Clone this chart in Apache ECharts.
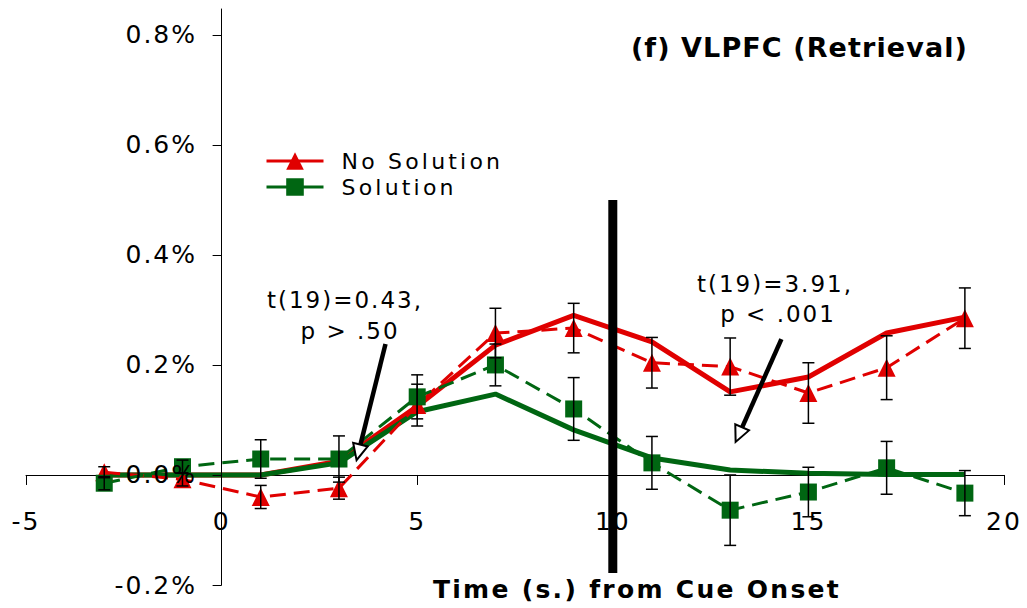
<!DOCTYPE html>
<html><head><meta charset="utf-8">
<script src="https://cdn.jsdelivr.net/npm/echarts@6/dist/echarts.min.js"></script>
<style>
html,body{margin:0;padding:0;background:#fff;}
#chart{width:1027px;height:608px;}
#chart text{letter-spacing:2px;}
#chart text[style*="22px"]{letter-spacing:3.2px;}
#chart text[style*="bold"]{letter-spacing:2.3px;}
#chart text[style*="27px"]{letter-spacing:1.1px;}
</style></head><body><div id="chart"></div>
<script>
// ---- data ----
const timePoints = [-3, -1, 1, 3, 5, 7, 9, 11, 13, 15, 17, 19];
const noSolutionMean = [0.005, -0.008, -0.040, -0.024, 0.127, 0.258, 0.267, 0.204, 0.197, 0.149, 0.195, 0.285];
const noSolutionErr  = [0.010, 0.012, 0.021, 0.020, 0.038, 0.045, 0.045, 0.046, 0.052, 0.055, 0.058, 0.055];
const solutionMean   = [-0.015, 0.015, 0.029, 0.029, 0.142, 0.200, 0.120, 0.022, -0.064, -0.031, 0.013, -0.033];
const solutionErr    = [0.012, 0.012, 0.035, 0.042, 0.040, 0.038, 0.057, 0.048, 0.064, 0.045, 0.048, 0.041];
const noSolutionFit  = [0, 0, 0, 0.025, 0.125, 0.236, 0.290, 0.242, 0.151, 0.178, 0.258, 0.287];
const solutionFit    = [0, 0, 0, 0.022, 0.115, 0.147, 0.082, 0.031, 0.009, 0.003, 0.001, 0.001];
const yTickValues = [-0.2, 0, 0.2, 0.4, 0.6, 0.8];
const xMin = -5, xMax = 20, xStep = 5;
const yMin = -0.2, yMax = 0.847;
const dividerLine = [[10, 0.5], [10, -0.178]];
const arrows = [[4.19, 0.238, 3.45, 0.027], [14.31, 0.247, 13.14, 0.060]];
const seriesNames = ['No Solution', 'Solution'];
const chartTitle = '(f) VLPFC (Retrieval)';
const xTitle = 'Time (s.) from Cue Onset';
const note1 = ['t(19)=0.43,', 'p > .50'];
const note2 = ['t(19)=3.91,', 'p < .001'];

const RED = '#E00000', GREEN = '#006612';
const FONT = '"DejaVu Sans", Verdana, sans-serif';

const zip = (xs, ys) => xs.map((x, i) => [x, ys[i]]);
const errRows = (means, errs) => timePoints.map((x, i) => [x, means[i] - errs[i], means[i] + errs[i]]);

const chart = echarts.init(document.getElementById('chart'), null, {renderer: 'svg'});

const GRID = {left: 26, right: 23, top: 9, bottom: 23};
// pixel offsets of the zero lines from the grid edges (labels follow the crossing axes)
const xLabelOffset = -110;   // x labels sit under y = 0
const yLabelOffset = -195;   // y labels sit left of x = 0

const option = {
  animation: false,
  backgroundColor: '#fff',
  grid: Object.assign({outerBoundsMode: 'none'}, GRID),
  xAxis: [{
    type: 'value', min: xMin, max: xMax, interval: xStep,
    splitLine: {show: false},
    axisLine: {show: true, onZero: true, lineStyle: {color: '#000', width: 1}},
    axisTick: {show: true, length: 10, lineStyle: {color: '#000', width: 1}},
    axisLabel: {show: false}
  }, {
    type: 'value', min: xMin, max: xMax, interval: xStep, position: 'bottom', offset: xLabelOffset,
    splitLine: {show: false}, axisLine: {show: false, onZero: false}, axisTick: {show: false},
    axisLabel: {margin: 34, fontSize: 25, color: '#000', fontFamily: FONT}
  }],
  yAxis: [{
    type: 'value', min: yMin, max: yMax, z: 3,
    splitLine: {show: false},
    axisLine: {show: true, onZero: true, lineStyle: {color: '#000', width: 1}},
    axisTick: {show: true, length: 9, customValues: yTickValues, lineStyle: {color: '#000', width: 1}},
    axisLabel: {show: false}
  }, {
    type: 'value', min: yMin, max: yMax, z: 3, position: 'left', offset: yLabelOffset,
    splitLine: {show: false}, axisLine: {show: false, onZero: false}, axisTick: {show: false},
    axisLabel: {customValues: yTickValues, margin: 24, fontSize: 25, color: '#000', fontFamily: FONT,
      formatter: v => v.toFixed(1) + '%'}
  }],
  legend: {
    data: seriesNames, orient: 'vertical', left: 265, top: 149, padding: 0,
    itemWidth: 57, itemHeight: 22, itemGap: 2, selectedMode: false,
    lineStyle: {type: 'solid', width: 3},
    textStyle: {fontSize: 22, color: '#000', fontFamily: FONT, lineHeight: 24, padding: [0, 0, 0, 13]}
  },
  series: [
    {name: 'No Solution fit', type: 'line', data: zip(timePoints, noSolutionFit), symbol: 'none', z: 2,
     lineStyle: {color: RED, width: 5}, itemStyle: {color: RED}},
    {name: 'Solution fit', type: 'line', data: zip(timePoints, solutionFit), symbol: 'none', z: 2,
     lineStyle: {color: GREEN, width: 5}, itemStyle: {color: GREEN}},
    {name: seriesNames[0], type: 'line', data: zip(timePoints, noSolutionMean), symbol: 'triangle', symbolSize: 18, z: 2,
     lineStyle: {color: RED, width: 3, type: [16, 8]}, itemStyle: {color: RED}},
    {name: seriesNames[1], type: 'line', data: zip(timePoints, solutionMean), symbol: 'rect', symbolSize: 17, z: 2,
     lineStyle: {color: GREEN, width: 3, type: [16, 8]}, itemStyle: {color: GREEN}},
    {name: 'errors', type: 'custom', z: 4, silent: true,
     data: errRows(noSolutionMean, noSolutionErr).concat(errRows(solutionMean, solutionErr)),
     encode: {x: 0, y: [1, 2]},
     renderItem: (params, api) => {
       const x = api.value(0);
       const lo = api.coord([x, api.value(1)]);
       const hi = api.coord([x, api.value(2)]);
       const cw = 6;
       const st = {stroke: '#000', lineWidth: 1.5};
       return {type: 'group', children: [
         {type: 'line', shape: {x1: lo[0], y1: lo[1], x2: hi[0], y2: hi[1]}, style: st},
         {type: 'line', shape: {x1: lo[0] - cw, y1: lo[1], x2: lo[0] + cw, y2: lo[1]}, style: st},
         {type: 'line', shape: {x1: hi[0] - cw, y1: hi[1], x2: hi[0] + cw, y2: hi[1]}, style: st}
       ]};
     }},
    {name: 'divider', type: 'line', data: dividerLine, symbol: 'none', z: 5, silent: true,
     lineStyle: {color: '#000', width: 9}},
    {name: 'arrows', type: 'custom', z: 6, silent: true,
     data: arrows, encode: {x: [0, 2], y: [1, 3]},
     renderItem: (params, api) => {
       const p1 = api.coord([api.value(0), api.value(1)]);
       const p2 = api.coord([api.value(2), api.value(3)]);
       const dx = p2[0] - p1[0], dy = p2[1] - p1[1];
       const len = Math.hypot(dx, dy), ux = dx / len, uy = dy / len;
       const hl = 16, hw = 7.5;
       const bx = p2[0] - ux * hl, by = p2[1] - uy * hl;
       return {type: 'group', children: [
         {type: 'line', shape: {x1: p1[0], y1: p1[1], x2: bx, y2: by}, style: {stroke: '#000', lineWidth: 4.5}},
         {type: 'polygon', shape: {points: [[p2[0], p2[1]], [bx - uy * hw, by + ux * hw], [bx + uy * hw, by - ux * hw]]},
          style: {fill: '#fff', stroke: '#000', lineWidth: 2}}
       ]};
     }}
  ],
  graphic: [
    {type: 'text', x: 968, y: 47, z: 10, style: {text: chartTitle, fill: '#000', font: 'bold 27px ' + FONT, align: 'right', verticalAlign: 'middle'}},
    {type: 'text', x: 637, y: 589, z: 10, style: {text: xTitle, fill: '#000', font: 'bold 25px ' + FONT, align: 'center', verticalAlign: 'middle'}},
    {type: 'text', x: 345, y: 300, z: 10, style: {text: note1[0], fill: '#000', font: '23px ' + FONT, align: 'center', verticalAlign: 'middle'}},
    {type: 'text', x: 350, y: 331, z: 10, style: {text: note1[1], fill: '#000', font: '23px ' + FONT, align: 'center', verticalAlign: 'middle'}},
    {type: 'text', x: 775, y: 284, z: 10, style: {text: note2[0], fill: '#000', font: '23px ' + FONT, align: 'center', verticalAlign: 'middle'}},
    {type: 'text', x: 778, y: 314, z: 10, style: {text: note2[1], fill: '#000', font: '23px ' + FONT, align: 'center', verticalAlign: 'middle'}}
  ]
};
chart.setOption(option);
</script></body></html>
